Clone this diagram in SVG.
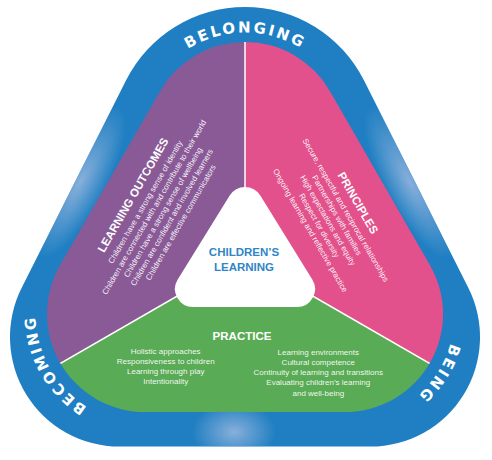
<svg xmlns="http://www.w3.org/2000/svg" width="492" height="460" viewBox="0 0 492 460">
<defs>
<style>
.body{font-family:"Liberation Sans",Arial,sans-serif;font-size:8px;fill:#ffffff;fill-opacity:0.93;text-anchor:middle}
.title{font-family:"Liberation Sans",Arial,sans-serif;font-size:11.5px;font-weight:bold;fill:#ffffff;text-anchor:middle}
.ring{font-family:"DejaVu Sans","Liberation Sans",sans-serif;font-size:15px;font-weight:bold;fill:#ffffff;letter-spacing:2.4px;text-anchor:middle}
.center{font-family:"Liberation Sans",Arial,sans-serif;font-size:11.5px;font-weight:bold;fill:#2f86c6;text-anchor:middle}
.divider{stroke:#ffffff;stroke-width:1.5;fill:none}
</style>
<path id="outerShape" d="M126.2 80.1 A133 133 0 0 1 363.8 80.1 L468.3 287.7 A109.6 109.6 0 0 1 370.4 446.6 L119.6 446.6 A109.6 109.6 0 0 1 21.7 287.7 Z"/>
<path id="innerShape" d="M160.03 91.17 A98 98 0 0 1 329.97 91.17 L429.97 265.17 A98 98 0 0 1 345 412 L145 412 A98 98 0 0 1 60.03 265.17 Z"/>
<clipPath id="clipOuter"><use href="#outerShape"/></clipPath>
<clipPath id="clipInner"><use href="#innerShape"/></clipPath>
<radialGradient id="hl">
<stop offset="0" stop-color="#8db2dc" stop-opacity="0.95"/>
<stop offset="1" stop-color="#8db2dc" stop-opacity="0"/>
</radialGradient>
<path id="arcTop" d="M137.5 140 A107.5 107.5 0 0 1 352.5 140"/>
<path id="arcRight" d="M439.83 259.25 A109.5 109.5 0 0 1 345 423.5"/>
<path id="arcLeft" d="M145 423.5 A109.5 109.5 0 0 1 50.17 259.25"/>
</defs>

<g id="ring">
<use href="#outerShape" fill="#1f7fc2"/>
<g clip-path="url(#clipOuter)">
<ellipse cx="80" cy="182" rx="85" ry="26" fill="url(#hl)" transform="rotate(-62 80 182)"/>
<ellipse cx="410" cy="182" rx="85" ry="26" fill="url(#hl)" transform="rotate(62 410 182)"/>
<ellipse cx="234" cy="432" rx="42" ry="30" fill="url(#hl)"/>
</g>
<text class="ring"><textPath href="#arcTop" startOffset="168.8">BELONGING</textPath></text>
<text class="ring"><textPath href="#arcRight" startOffset="118.9">BEING</textPath></text>
<text class="ring"><textPath href="#arcLeft" startOffset="115.9">BECOMING</textPath></text>
</g>

<g clip-path="url(#clipInner)">
<g id="learning-outcomes">
<polygon points="245,0 245,257 -100,456 -100,0" fill="#8a5a97"/>
</g>
<g id="principles">
<polygon points="245,0 245,257 590,456 590,0" fill="#e2518b"/>
</g>
<g id="practice">
<polygon points="245,257 -100,456 -100,470 590,470 590,456" fill="#5aab55"/>
</g>
<g id="connectors">
<line class="divider" x1="245" y1="257" x2="245" y2="30"/>
<line class="divider" x1="245" y1="257" x2="-50" y2="427"/>
<line class="divider" x1="245" y1="257" x2="540" y2="427"/>
</g>
</g>

<g id="learning-outcomes-text" transform="translate(133,195) rotate(-60)">
<text class="title" x="0" y="4">LEARNING OUTCOMES</text>
<text class="body" x="0" y="17">Children have a strong sense of identity</text>
<text class="body" x="0" y="27.2">Children are connected with and contribute to their world</text>
<text class="body" x="0" y="37.4">Children have a strong sense of wellbeing</text>
<text class="body" x="0" y="47.6">Children are confident and involved learners</text>
<text class="body" x="0" y="57.8">Children are effective communicators</text>
</g>

<g id="principles-text" transform="translate(358,203) rotate(60)">
<text class="title" x="0" y="4">PRINCIPLES</text>
<text class="body" x="0" y="17">Secure, respectful and reciprocal relationships</text>
<text class="body" x="0" y="27.2">Partnerships with families</text>
<text class="body" x="0" y="37.4">High expectations and equity</text>
<text class="body" x="0" y="47.6">Respect for diversity</text>
<text class="body" x="0" y="57.8">Ongoing learning and reflective practice</text>
</g>

<g id="practice-text">
<text class="title" x="242" y="339.7">PRACTICE</text>
<text class="body" x="165.7" y="353.5">Holistic approaches</text>
<text class="body" x="165.7" y="363.6">Responsiveness to children</text>
<text class="body" x="165.7" y="373.8">Learning through play</text>
<text class="body" x="165.7" y="383.9">Intentionality</text>
<text class="body" x="318.3" y="354.5">Learning environments</text>
<text class="body" x="318.3" y="364.6">Cultural competence</text>
<text class="body" x="318.3" y="374.8">Continuity of learning and transitions</text>
<text class="body" x="318.3" y="385">Evaluating children’s learning</text>
<text class="body" x="318.3" y="395.6">and well-being</text>
</g>

<g id="childrens-learning">
<path d="M229.7 195.53 A18 18 0 0 1 260.3 195.53 L312.3 279.53 A18 18 0 0 1 297 307 L193 307 A18 18 0 0 1 177.7 279.53 Z" fill="#ffffff"/>
<text class="center" x="244" y="255.7">CHILDREN’S</text>
<text class="center" x="244" y="270.7">LEARNING</text>
</g>
</svg>
